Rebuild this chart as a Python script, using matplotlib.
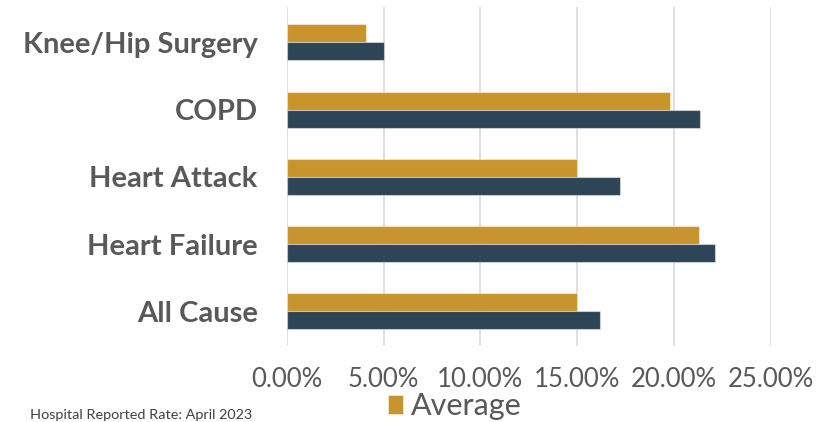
import matplotlib
matplotlib.use("Agg")
import matplotlib.pyplot as plt
import numpy as np
from matplotlib.ticker import PercentFormatter

categories = ["All Cause", "Heart Failure", "Heart Attack", "COPD", "Knee/Hip Surgery"]
average = [15.0, 21.29, 14.99, 19.79, 4.11]
hospital = [16.17, 22.09, 17.18, 21.36, 5.03]
x_ticks = [0, 5, 10, 15, 20, 25]
footnote = "Hospital Reported Rate: April 2023"
legend_label = "Average"

GOLD = "#C8942E"
NAVY = "#2E4558"
LABEL_GRAY = "#595959"

fig = plt.figure(figsize=(8.3, 4.22), dpi=100)
ax = fig.add_axes([286.7 / 830, 1 - 346 / 422, (771 - 286.7) / 830, (346 - 7) / 422])

y = np.arange(len(categories))
h = 0.268
gold_bars = ax.barh(y + h / 2, average, height=h, color=GOLD,
                    edgecolor=(1, 1, 1, 0.45), linewidth=0.8, zorder=3)
ax.barh(y - h / 2, hospital, height=h, color=NAVY,
        edgecolor=(1, 1, 1, 0.45), linewidth=0.8, zorder=3)

ax.set_xlim(0, 25)
ax.set_ylim(-0.516, 4.525)
ax.set_xticks(x_ticks)
ax.xaxis.set_major_formatter(PercentFormatter(xmax=100, decimals=2))
ax.set_yticks(y)
ax.set_yticklabels(categories)

ax.grid(axis="x", color="#D9D9D9", linewidth=1.2, zorder=0)
ax.set_axisbelow(True)
for s in ["top", "right", "bottom", "left"]:
    ax.spines[s].set_visible(False)

ax.tick_params(axis="y", length=0, pad=21)
ax.tick_params(axis="x", length=0, pad=15)
for lbl in ax.get_yticklabels():
    lbl.set_fontfamily(["Lato", "DejaVu Sans"])
    lbl.set_fontweight("bold")
    lbl.set_fontsize(21)
    lbl.set_color(LABEL_GRAY)
for lbl in ax.get_xticklabels():
    lbl.set_fontfamily(["Lato", "DejaVu Sans"])
    lbl.set_fontsize(18.5)
    lbl.set_color(LABEL_GRAY)

leg = fig.legend(handles=[gold_bars], labels=[legend_label], loc="center",
                 bbox_to_anchor=(455 / 830, 1 - 406 / 422), frameon=False,
                 handlelength=0.5, handleheight=0.6, handletextpad=0.25,
                 prop={"family": ["Lato", "DejaVu Sans"], "size": 22})
for t in leg.get_texts():
    t.set_color(LABEL_GRAY)

fig.text(30 / 830, 1 - 415 / 422, footnote, ha="left", va="center",
         fontsize=10.4, color="#404040",
         family=["Lato", "DejaVu Sans"])

fig.savefig("out.png", dpi=100)
